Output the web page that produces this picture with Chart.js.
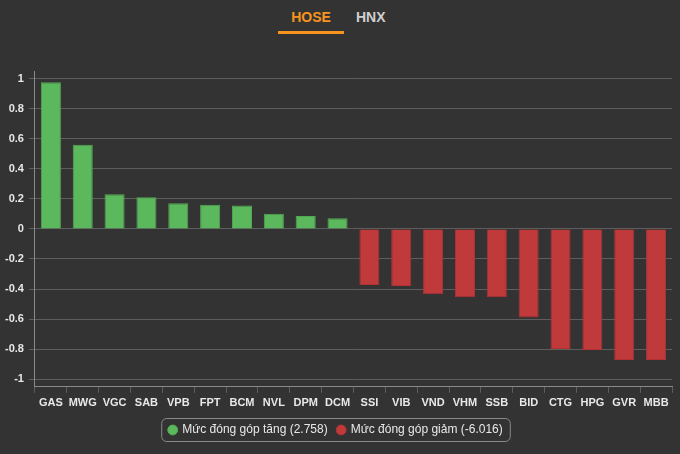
<!DOCTYPE html>
<html>
<head>
<meta charset="utf-8">
<script src="https://cdn.jsdelivr.net/npm/chart.js@4/dist/chart.umd.min.js"></script>
<style>
    html, body { margin: 0; padding: 0; background: #333333; }
    #wrap { position: relative; width: 680px; height: 454px; overflow: hidden; }
    #tabs { position: absolute; top: 0; left: 0; width: 680px; height: 40px; font-family: "Liberation Sans", Arial, sans-serif; font-weight: bold; font-size: 14px; }
    .tab { position: absolute; top: 9px; }
    #hose { left: 278px; width: 66px; text-align: center; color: #f7941d; padding-bottom: 6px; border-bottom: 3px solid #f7941d; }
    #hnx { left: 356px; color: #d0d0d0; }
    canvas { position: absolute; top: 0; left: 0; }
</style>
</head>
<body>
<div id="wrap">
    <div id="tabs">
        <div class="tab" id="hose">HOSE</div>
        <div class="tab" id="hnx">HNX</div>
    </div>
    <canvas id="chart" width="680" height="454"></canvas>
</div>
<script>
// Dữ liệu
const categories = ['GAS', 'MWG', 'VGC', 'SAB', 'VPB', 'FPT', 'BCM', 'NVL', 'DPM', 'DCM',
    'SSI', 'VIB', 'VND', 'VHM', 'SSB', 'BID', 'CTG', 'HPG', 'GVR', 'MBB'];
const gainValues = [0.975, 0.56, 0.23, 0.21, 0.17, 0.16, 0.155, 0.10, 0.085, 0.07];
const lossValues = [-0.373, -0.38, -0.435, -0.455, -0.455, -0.59, -0.798, -0.805, -0.872, -0.872];
const gainTotal = '2.758';
const lossTotal = '-6.016';
const yTicks = [1, 0.8, 0.6, 0.4, 0.2, 0, -0.2, -0.4, -0.6, -0.8, -1];

const gainColor = '#5cb85c';
const lossColor = '#c0393b';
const textColor = '#e8e8e8';
const gridColor = '#5e5e5e';

// Mỗi dataset chỉ có giá trị ở nhóm của nó
const gainData = categories.map((c, i) => i < gainValues.length ? gainValues[i] : null);
const lossData = categories.map((c, i) => i >= gainValues.length ? lossValues[i - gainValues.length] : null);

// Viền bo tròn quanh chú thích
const legendBorder = {
    id: 'legendBorder',
    afterDraw(chart) {
        const boxes = chart.legend.legendHitBoxes;
        if (!boxes || !boxes.length) return;
        let left = Infinity, right = -Infinity, top = Infinity, bottom = -Infinity;
        boxes.forEach(b => {
            left = Math.min(left, b.left);
            right = Math.max(right, b.left + b.width);
            top = Math.min(top, b.top);
            bottom = Math.max(bottom, b.top + b.height);
        });
        const ctx = chart.ctx;
        ctx.save();
        ctx.strokeStyle = '#8a8a8a';
        ctx.lineWidth = 1;
        ctx.beginPath();
        ctx.roundRect(left - 7.5, top - 5.5, right - left + 15, bottom - top + 11, 5);
        ctx.stroke();
        ctx.restore();
    }
};

const ctx = document.getElementById('chart').getContext('2d');
new Chart(ctx, {
    type: 'bar',
    data: {
        labels: categories,
        datasets: [{
            label: `Mức đóng góp tăng (${gainTotal})`,
            data: gainData,
            backgroundColor: gainColor,
            borderColor: '#53a853',
            borderWidth: 1
        }, {
            label: `Mức đóng góp giảm (${lossTotal})`,
            data: lossData,
            backgroundColor: lossColor,
            borderColor: '#b03234',
            borderWidth: 1
        }]
    },
    options: {
        responsive: false,
        animation: false,
        datasets: {
            bar: { grouped: false, barPercentage: 0.63, categoryPercentage: 1 }
        },
        layout: {
            padding: { top: 71, right: 8, left: 0, bottom: 8 }
        },
        plugins: {
            tooltip: { enabled: false },
            legend: {
                position: 'bottom',
                labels: {
                    color: textColor,
                    usePointStyle: true,
                    pointStyle: 'circle',
                    boxWidth: 7,
                    boxHeight: 7,
                    padding: 10,
                    font: { family: '"Liberation Sans", Arial, sans-serif', size: 12 }
                }
            }
        },
        scales: {
            x: {
                grid: { display: true, drawOnChartArea: false, color: gridColor, tickLength: 6, offset: true },
                border: { color: '#8a8a8a' },
                ticks: {
                    color: textColor,
                    maxRotation: 0,
                    autoSkip: false,
                    padding: 4,
                    font: { family: '"Liberation Sans", Arial, sans-serif', size: 11, weight: 'bold' }
                }
            },
            y: {
                min: -1.05,
                max: 1.05,
                afterBuildTicks(axis) {
                    axis.ticks = yTicks.map(v => ({ value: v }));
                },
                grid: { color: gridColor, tickLength: 6 },
                border: { color: '#8a8a8a' },
                ticks: {
                    color: textColor,
                    padding: 5,
                    callback: v => String(Math.round(v * 10) / 10),
                    font: { family: '"Liberation Sans", Arial, sans-serif', size: 11, weight: 'bold' }
                }
            }
        }
    },
    plugins: [legendBorder]
});
</script>
</body>
</html>
